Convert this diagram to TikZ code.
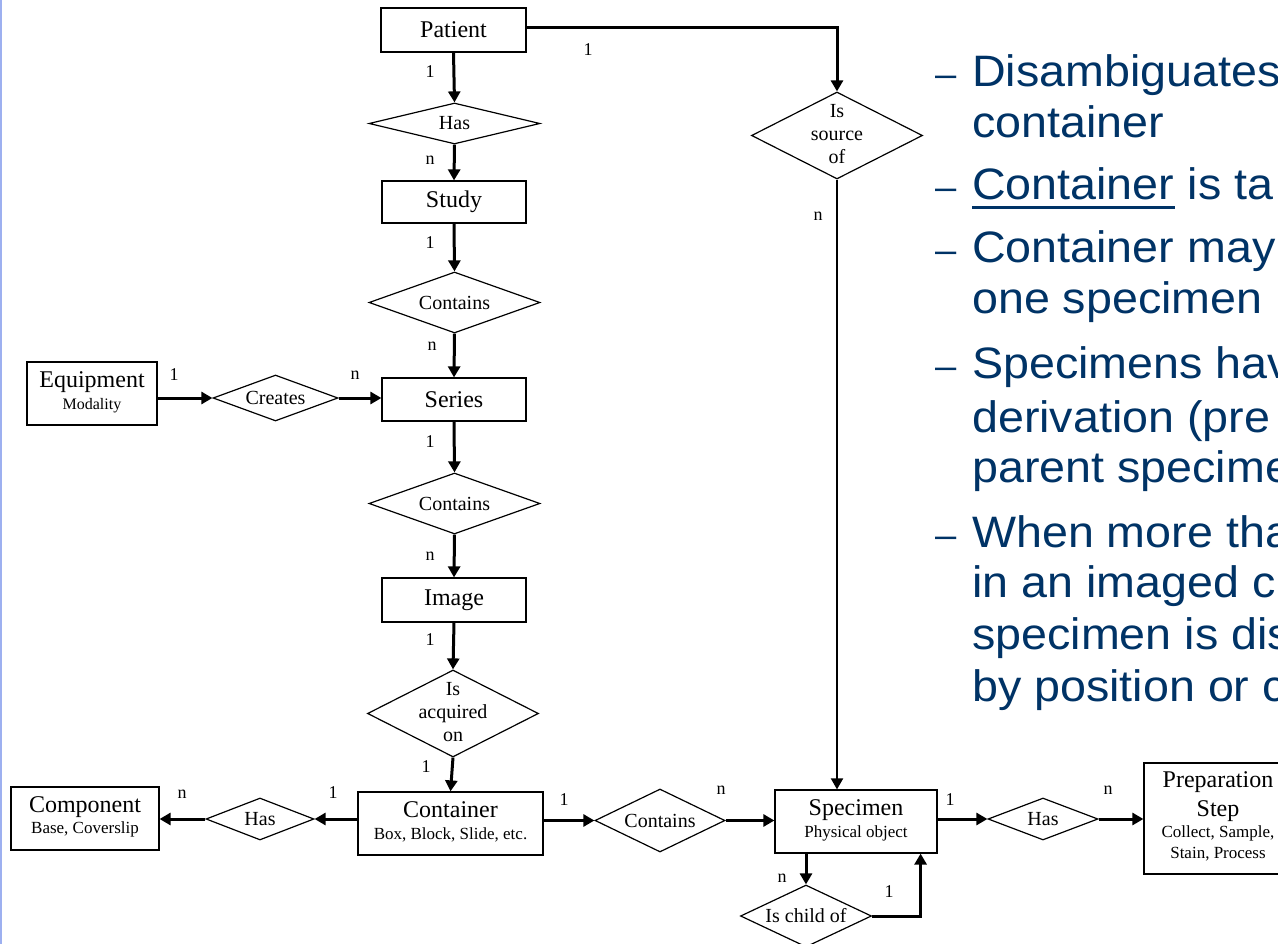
\documentclass[tikz,border=0pt]{standalone}
\usepackage{fontspec}
\setmainfont{Liberation Serif}
\newfontfamily\bulletfont[FakeStretch=1.06]{Liberation Sans}
\usetikzlibrary{shapes.geometric,arrows.meta,calc}
\definecolor{navy}{HTML}{003366}
\definecolor{edgeblue}{HTML}{9DB0F0}
% text box of zero size, centred on the node centre
\newcommand\zbox[1]{\raisebox{\dimexpr(\depth-\height)/2\relax}[0pt][0pt]{\makebox[0pt]{#1}}}
\newcommand\subfont{\fontsize{17}{20}\selectfont}
\newcommand\stack[1]{\begin{tabular}{@{}c@{}}#1\end{tabular}}
\tikzset{
  entity/.style={draw, line width=1.2pt, rectangle, inner sep=0pt,
    font=\fontsize{24}{24}\selectfont},
  rel/.style={draw, line width=1.2pt, diamond, inner sep=0pt,
    font=\fontsize{20}{23}\selectfont},
  card/.style={inner sep=0pt, font=\fontsize{18}{18}\selectfont},
  link/.style={line width=3pt, -{Triangle[length=11pt,width=12pt]}},
  thinlink/.style={line width=2pt, -{Triangle[length=11pt,width=12pt]}},
  bullettext/.style={anchor=base west, inner sep=0pt, text=navy,
    font=\bulletfont\fontsize{44}{51}\selectfont},
  bulletdash/.style={anchor=base west, inner sep=0pt, text=navy,
    font=\bulletfont\fontsize{36}{40}\selectfont},
}
\begin{document}
\begin{tikzpicture}[x=1pt, y=-1pt]
\useasboundingbox (0,0) rectangle (1278,944);
\fill[white] (0,0) rectangle (1278,944);
\fill[edgeblue] (0,0) rectangle (1.8,944);
\clip (0,0) rectangle (1278,944);

% ---- entities and relationships ----
\node[entity, minimum width=145pt, minimum height=44pt] (patient) at (453.5,30) {\zbox{Patient}};
\node[rel, minimum width=171pt, minimum height=41pt] (has1) at (454.5,123.5) {\zbox{Has}};
\node[entity, minimum width=144pt, minimum height=42pt] (study) at (454,202) {\zbox{Study}};
\node[rel, minimum width=171pt, minimum height=61pt] (cont1) at (454.5,302.5) {\zbox{Contains}};
\node[entity, minimum width=144pt, minimum height=43pt] (series) at (454,399.5) {\zbox{Series}};
\node[entity, minimum width=130pt, minimum height=63pt] (equip) at (92,393.5)
  {\zbox{\stack{Equipment\\[-2pt]\fontsize{16}{20}\selectfont Modality}}};
\node[rel, minimum width=125pt, minimum height=46pt] (creates) at (275.5,398) {\zbox{Creates}};
\node[rel, minimum width=171pt, minimum height=61pt] (cont2) at (454.5,503.5) {\zbox{Contains}};
\node[entity, minimum width=144pt, minimum height=44pt] (image) at (454,600) {\zbox{Image}};
\node[rel, minimum width=171pt, minimum height=87pt] (acq) at (453,713.5)
  {\zbox{\stack{Is\\acquired\\on}}};
\node[entity, minimum width=185pt, minimum height=63pt] (container) at (450.5,823.5)
  {\zbox{\stack{Container\\[-2pt]\subfont Box, Block, Slide, etc.}}};
\node[rel, minimum width=108pt, minimum height=42pt] (has2) at (260,819) {\zbox{Has}};
\node[entity, minimum width=148pt, minimum height=63pt] (component) at (85,818.5)
  {\zbox{\stack{Component\\[-3pt]\subfont Base, Coverslip}}};
\node[rel, minimum width=130pt, minimum height=63pt] (cont3) at (660,820.5) {\zbox{Contains}};
\node[entity, minimum width=162pt, minimum height=63pt] (specimen) at (856,821.5)
  {\zbox{\stack{Specimen\\[-2pt]\subfont Physical object}}};
\node[rel, minimum width=110pt, minimum height=42pt] (has3) at (1043,819) {\zbox{Has}};
\node[entity, minimum width=148pt, minimum height=111pt] (prep) at (1218,818.5)
  {\zbox{\stack{Preparation\\[5pt]Step\\[-3pt]\subfont Collect, Sample,\\[-3pt]\subfont Stain, Process}}};
\node[rel, minimum width=171pt, minimum height=87pt] (issrc) at (837,135.5)
  {\zbox{\stack{Is\\source\\of}}};
\node[rel, minimum width=131pt, minimum height=62pt] (child) at (806,916) {\zbox{Is child of}};

% ---- connectors ----
\draw[link] (patient.south) -- (has1.north);
\draw[link] (has1.south) -- (study.north);
\draw[link] (study.south) -- (cont1.north);
\draw[link] (cont1.south) -- (series.north);
\draw[link] (series.south) -- (cont2.north);
\draw[link] (cont2.south) -- (image.north);
\draw[link] (image.south) -- (acq.north);
\draw[link] (acq.south) -- (container.north);
\draw[link] (creates.west -| equip.east) -- (creates.west);
\draw[link] (creates.east) -- (creates.east -| series.west);
\draw[link] (has2.east -| container.west) -- (has2.east);
\draw[link] (has2.west) -- (has2.west -| component.east);
\draw[link] (cont3.west -| container.east) -- (cont3.west);
\draw[link] (cont3.east) -- (cont3.east -| specimen.west);
\draw[link] (has3.west -| specimen.east) -- (has3.west);
\draw[link] (has3.east) -- (has3.east -| prep.west);
\draw[link] ([yshift=2pt]patient.east) -| (issrc.north);
\draw[thinlink] (issrc.south) -- (issrc.south |- specimen.north);
\draw[link] (child.north |- specimen.south) -- (child.north);
\draw[link] (child.east) -| ([xshift=-17pt]specimen.south east);

% ---- cardinalities ----
\node[card] (k1) at (430,72) {1};
\node[card] (k2) at (588,50) {1};
\node[card] (k3) at (430,160) {n};
\node[card] (k4) at (430,243) {1};
\node[card] (k5) at (432,346) {n};
\node[card] (k6) at (174,375) {1};
\node[card] (k7) at (355,375) {n};
\node[card] (k8) at (430,442) {1};
\node[card] (k9) at (430,556) {n};
\node[card] (k10) at (430,640) {1};
\node[card] (k11) at (426,767) {1};
\node[card] (k12) at (333,793) {1};
\node[card] (k13) at (182,794) {n};
\node[card] (k14) at (564,800) {1};
\node[card] (k15) at (721,790) {n};
\node[card] (k16) at (818,216) {n};
\node[card] (k17) at (950,800) {1};
\node[card] (k18) at (1108,790) {n};
\node[card] (k19) at (782,878) {n};
\node[card] (k20) at (889,892) {1};

% ---- bullet list ----
\node[bulletdash] (d1) at (935,87) {–};
\node[bullettext] (t1) at (972,87) {Disambiguates};
\node[bullettext] (t2) at (972,138) {container};
\node[bulletdash] (d2) at (935,200) {–};
\node[bullettext] (t3) at (972,200) {Container};
\node[bullettext] (t3b) at (t3.base east) {\ is ta};
\draw[navy, line width=3pt] ([yshift=-8pt]t3.base west) -- ([yshift=-8pt]t3.base east);
\node[bulletdash] (d3) at (935,263) {–};
\node[bullettext] (t4) at (972,263) {Container may};
\node[bullettext] (t5) at (972,313) {one specimen};
\node[bulletdash] (d4) at (935,378) {–};
\node[bullettext] (t6) at (972,378) {Specimens hav};
\node[bullettext] (t7) at (972,432) {derivation (pre};
\node[bullettext] (t8) at (972,482) {parent specime};
\node[bulletdash] (d5) at (935,547) {–};
\node[bullettext] (t9) at (972,547) {When more tha};
\node[bullettext] (t10) at (972,597) {in an imaged c};
\node[bullettext] (t11) at (972,649) {specimen is dis};
\node[bullettext] (t12) at (972,701) {by position or c};
\end{tikzpicture}
\end{document}
